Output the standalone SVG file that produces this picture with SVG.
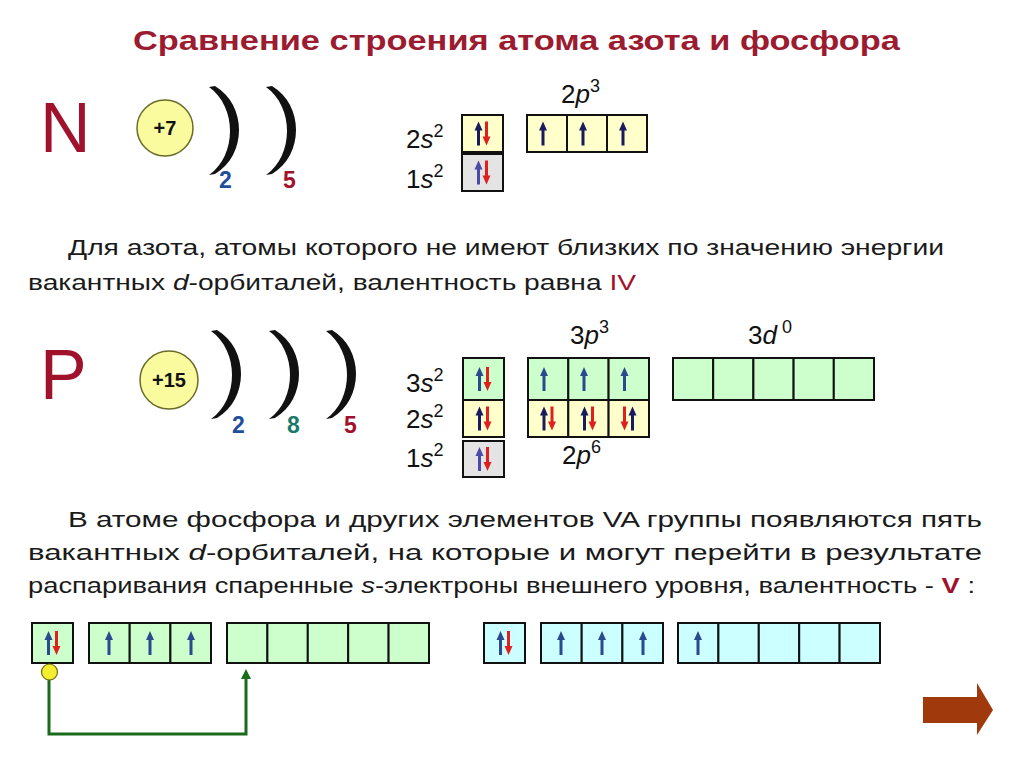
<svg xmlns="http://www.w3.org/2000/svg" xmlns:xlink="http://www.w3.org/1999/xlink" width="1024" height="768" viewBox="0 0 1024 768">
<style>
.title{font-family:"Liberation Sans",Arial,sans-serif;font-weight:bold;font-size:28px;fill:#9b1b30}
.el{font-family:"Liberation Sans",Arial,sans-serif;font-size:70px;fill:#a0122c}
.nuc{font-family:"Liberation Sans",Arial,sans-serif;font-weight:bold;font-size:20px;fill:#111}
.num{font-family:"Liberation Sans",Arial,sans-serif;font-weight:bold;font-size:23px}
.lbl{font-family:"Liberation Sans",Arial,sans-serif;font-size:26px;fill:#111}
.sup{font-size:18px}
.body{font-family:"Liberation Sans",Arial,sans-serif;font-size:22px;fill:#1a1a1a}
.core{fill:#fafa9e;stroke:#6b6b2a;stroke-width:1.5}
.y{fill:#ffffcc;stroke:#111;stroke-width:2}
.g{fill:#ccffcc;stroke:#111;stroke-width:2}
.gr{fill:#e4e4e4;stroke:#111;stroke-width:2}
.c{fill:#ccffff;stroke:#111;stroke-width:2}
.shell{fill:#111}
.ua{fill:#1a1a5e}
.ub{fill:#2a4a90}
.da{fill:#e02020}
.link{fill:none;stroke:#1a6b1a;stroke-width:3}
</style>
<defs>
<path id="shell" d="M0,0 L6,-1 C38,18 38,68 6,87 L0,88 C28,68 28,20 0,0 Z"/>
<path id="up" d="M0,-12 L-4,-3 L-1.5,-3 L-1.5,12 L1.5,12 L1.5,-3 L4,-3 Z"/>
<path id="down" d="M0,12 L-4,3 L-1.5,3 L-1.5,-12 L1.5,-12 L1.5,3 L4,3 Z"/>
<marker id="ah" markerWidth="10" markerHeight="10" refX="5" refY="5" orient="auto" markerUnits="userSpaceOnUse">
<path d="M0,0 L10,5 L0,10 Z" fill="#1a6b1a"/>
</marker>
</defs>
<rect width="1024" height="768" fill="#fff"/>

<text class="title" x="133" y="50" textLength="767" lengthAdjust="spacingAndGlyphs">Сравнение строения атома азота  и фосфора</text>

<g id="nitrogen-atom">
<text class="el" x="40" y="152">N</text>
<circle class="core" cx="165" cy="128" r="28"/>
<text class="nuc" x="165" y="135" text-anchor="middle">+7</text>
<use href="#shell" class="shell" transform="translate(209,87)"/>
<use href="#shell" class="shell" transform="translate(266,87)"/>
<text class="num" x="219" y="188" fill="#1f4e9c">2</text>
<text class="num" x="283" y="188" fill="#a0122c">5</text>
</g>

<g id="nitrogen-orbitals">
<text class="lbl" x="406" y="148">2<tspan font-style="italic">s</tspan><tspan class="sup" dy="-11">2</tspan></text>
<text class="lbl" x="406" y="188">1<tspan font-style="italic">s</tspan><tspan class="sup" dy="-11">2</tspan></text>
<text class="lbl" x="561" y="103">2<tspan font-style="italic">p</tspan><tspan class="sup" dy="-11">3</tspan></text>
<rect class="y" x="462" y="115" width="41" height="37"/>
<rect class="gr" x="462" y="154" width="41" height="37"/>
<rect class="y" x="527" y="115" width="40" height="37"/>
<rect class="y" x="567" y="115" width="40" height="37"/>
<rect class="y" x="607" y="115" width="40" height="37"/>
<use href="#up" class="ua" x="478.5" y="133.5"/>
<use href="#down" class="da" x="486.5" y="133.5"/>
<use href="#up" fill="#4a4aa8" x="478.5" y="172.5"/>
<use href="#down" class="da" x="486.5" y="172.5"/>
<use href="#up" class="ua" x="543" y="133.5"/>
<use href="#up" class="ua" x="583" y="133.5"/>
<use href="#up" class="ua" x="623" y="133.5"/>
</g>

<g id="text-nitrogen">
<text class="body" x="68" y="255" textLength="876" lengthAdjust="spacingAndGlyphs">Для азота, атомы которого не имеют близких по значению энергии</text>
<text class="body" x="28" y="290" textLength="608" lengthAdjust="spacingAndGlyphs">вакантных <tspan font-style="italic">d</tspan>-орбиталей, валентность равна <tspan fill="#a0122c">IV</tspan></text>
</g>

<g id="phosphorus-atom">
<text class="el" x="40" y="399">P</text>
<circle class="core" cx="169" cy="380" r="29"/>
<text class="nuc" x="169" y="387" text-anchor="middle">+15</text>
<use href="#shell" class="shell" transform="translate(211,331)"/>
<use href="#shell" class="shell" transform="translate(269,331)"/>
<use href="#shell" class="shell" transform="translate(326,331)"/>
<text class="num" x="232" y="433" fill="#1f4e9c">2</text>
<text class="num" x="287" y="433" fill="#1a7a6a">8</text>
<text class="num" x="344" y="433" fill="#a0122c">5</text>
</g>

<g id="phosphorus-orbitals">
<text class="lbl" x="406" y="392">3<tspan font-style="italic">s</tspan><tspan class="sup" dy="-11">2</tspan></text>
<text class="lbl" x="406" y="428">2<tspan font-style="italic">s</tspan><tspan class="sup" dy="-11">2</tspan></text>
<text class="lbl" x="406" y="467">1<tspan font-style="italic">s</tspan><tspan class="sup" dy="-11">2</tspan></text>
<text class="lbl" x="570" y="344">3<tspan font-style="italic">p</tspan><tspan class="sup" dy="-11">3</tspan></text>
<text class="lbl" x="748" y="344">3<tspan font-style="italic">d</tspan><tspan class="sup" dx="5" dy="-11">0</tspan></text>
<text class="lbl" x="562" y="464">2<tspan font-style="italic">p</tspan><tspan class="sup" dy="-11">6</tspan></text>
<rect class="g" x="463" y="358" width="41" height="42"/>
<rect class="y" x="463" y="400" width="41" height="37"/>
<rect class="gr" x="463" y="441" width="41" height="36"/>
<rect class="g" x="528" y="358" width="40.3" height="42"/>
<rect class="g" x="568.3" y="358" width="40.3" height="42"/>
<rect class="g" x="608.6" y="358" width="40.4" height="42"/>
<rect class="y" x="528" y="400" width="40.3" height="37"/>
<rect class="y" x="568.3" y="400" width="40.3" height="37"/>
<rect class="y" x="608.6" y="400" width="40.4" height="37"/>
<rect class="g" x="673" y="358" width="40.2" height="42"/>
<rect class="g" x="713.2" y="358" width="40.2" height="42"/>
<rect class="g" x="753.4" y="358" width="40.2" height="42"/>
<rect class="g" x="793.6" y="358" width="40.2" height="42"/>
<rect class="g" x="833.8" y="358" width="40.2" height="42"/>
<use href="#up" class="ub" x="479.5" y="379"/>
<use href="#down" class="da" x="487.5" y="379"/>
<use href="#up" class="ua" x="479.5" y="418.5"/>
<use href="#down" class="da" x="487.5" y="418.5"/>
<use href="#up" fill="#4a4aa8" x="479.5" y="459"/>
<use href="#down" class="da" x="487.5" y="459"/>
<use href="#up" class="ub" x="544" y="379"/>
<use href="#up" class="ub" x="584" y="379"/>
<use href="#up" class="ub" x="624.5" y="379"/>
<use href="#up" class="ua" x="544" y="418.5"/>
<use href="#down" class="da" x="552" y="418.5"/>
<use href="#up" class="ua" x="584.5" y="418.5"/>
<use href="#down" class="da" x="592.5" y="418.5"/>
<use href="#down" class="da" x="624.5" y="418.5"/>
<use href="#up" class="ua" x="632.5" y="418.5"/>
</g>

<g id="text-phosphorus">
<text class="body" x="68" y="527" textLength="914" lengthAdjust="spacingAndGlyphs">В атоме фосфора и других элементов VA группы появляются пять</text>
<text class="body" x="28" y="560" textLength="954" lengthAdjust="spacingAndGlyphs">вакантных  <tspan font-style="italic">d</tspan>-орбиталей, на которые и могут перейти в результате</text>
<text class="body" x="28" y="593" textLength="947" lengthAdjust="spacingAndGlyphs">распаривания спаренные  <tspan font-style="italic">s</tspan>-электроны внешнего уровня, валентность - <tspan font-weight="bold" fill="#a0122c">V</tspan> :</text>
</g>

<g id="ground-state">
<rect class="g" x="32" y="623" width="41" height="40"/>
<rect class="g" x="89" y="623" width="40.7" height="40"/>
<rect class="g" x="129.7" y="623" width="40.7" height="40"/>
<rect class="g" x="170.4" y="623" width="40.6" height="40"/>
<rect class="g" x="227" y="623" width="40.4" height="40"/>
<rect class="g" x="267.4" y="623" width="40.4" height="40"/>
<rect class="g" x="307.8" y="623" width="40.4" height="40"/>
<rect class="g" x="348.2" y="623" width="40.4" height="40"/>
<rect class="g" x="388.6" y="623" width="40.4" height="40"/>
<use href="#up" class="ub" x="48.5" y="643"/>
<use href="#down" class="da" x="56.5" y="643"/>
<use href="#up" class="ub" x="109" y="643"/>
<use href="#up" class="ub" x="150" y="643"/>
<use href="#up" class="ub" x="191" y="643"/>
</g>

<g id="excited-state">
<rect class="c" x="484" y="623" width="41" height="40"/>
<rect class="c" x="541" y="623" width="40.7" height="40"/>
<rect class="c" x="581.7" y="623" width="40.7" height="40"/>
<rect class="c" x="622.4" y="623" width="40.6" height="40"/>
<rect class="c" x="678" y="623" width="40.4" height="40"/>
<rect class="c" x="718.4" y="623" width="40.4" height="40"/>
<rect class="c" x="758.8" y="623" width="40.4" height="40"/>
<rect class="c" x="799.2" y="623" width="40.4" height="40"/>
<rect class="c" x="839.6" y="623" width="40.4" height="40"/>
<use href="#up" class="ub" x="500.5" y="643"/>
<use href="#down" class="da" x="508.5" y="643"/>
<use href="#up" class="ub" x="561" y="643"/>
<use href="#up" class="ub" x="602" y="643"/>
<use href="#up" class="ub" x="643" y="643"/>
<use href="#up" class="ub" x="698" y="643"/>
</g>

<g id="connectors">
<path class="link" d="M49,678 L49,734 L246,734 L246,674" marker-end="url(#ah)"/>
<circle cx="49.5" cy="672" r="8" fill="#f5ee30" stroke="#6b6b10" stroke-width="1.2"/>
</g>

<g id="next-arrow">
<path d="M923,697 L977,697 L977,683 L993,710 L977,735 L977,723 L923,723 Z" fill="#a03a0c"/>
</g>
</svg>
